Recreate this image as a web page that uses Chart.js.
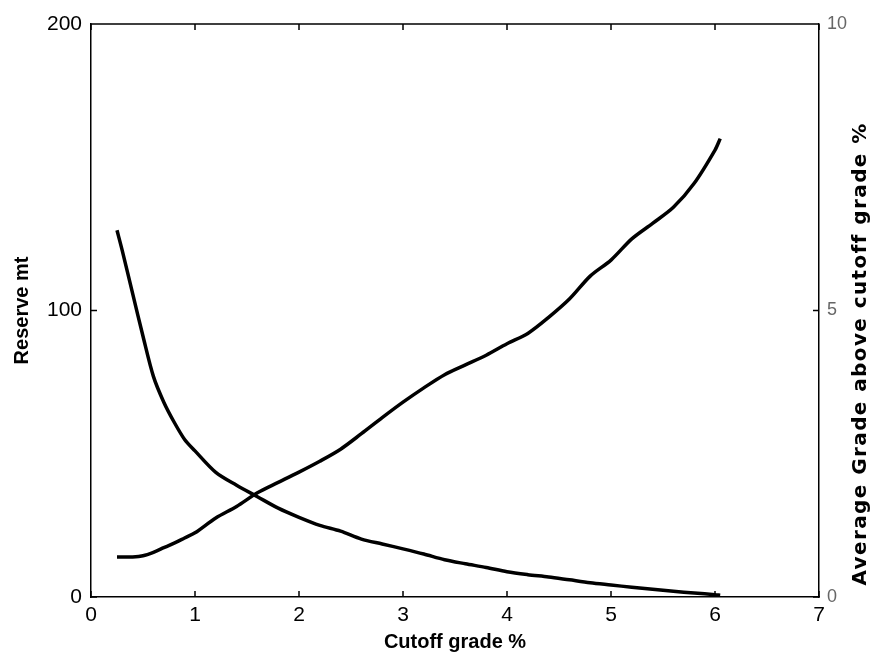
<!DOCTYPE html>
<html>
<head>
<meta charset="utf-8">
<script src="https://cdn.jsdelivr.net/npm/chart.js@4"></script>
<style>
  body { margin: 0; background: #fff; }
  #box { width: 874px; height: 656px; }
</style>
</head>
<body>
<div id="box"><canvas id="grafico"></canvas></div>
<script>
// Cutoff grade (%)
const cutoff = [0.25, 0.3, 0.4, 0.5, 0.6, 0.7, 0.8, 0.9, 1.0, 1.2, 1.4, 1.6, 1.8, 2.0, 2.2, 2.4, 2.6, 2.8, 3.0,
  3.2, 3.4, 3.6, 3.8, 4.0, 4.2, 4.4, 4.6, 4.8, 5.0, 5.2, 5.4, 5.6, 5.8, 6.0, 6.05];
// Reserve (mt), left axis
const reserve = [128, 121, 106, 91, 77, 68, 61, 55, 51, 43.5, 39, 35, 31, 27.8, 25, 23, 20.2, 18.5, 16.8,
  15, 13, 11.6, 10.3, 8.8, 7.8, 7, 6, 5, 4.2, 3.4, 2.7, 2, 1.4, 0.8, 0.6];
// Average grade above cutoff (%), right axis
const avgGrade = [0.70, 0.70, 0.70, 0.72, 0.78, 0.86, 0.94, 1.03, 1.12, 1.38, 1.58, 1.82, 2.0, 2.18, 2.37, 2.58, 2.85, 3.13, 3.40,
  3.65, 3.88, 4.05, 4.22, 4.42, 4.6, 4.88, 5.2, 5.6, 5.88, 6.25, 6.52, 6.8, 7.22, 7.8, 8.0];

const xTicks = [0, 1, 2, 3, 4, 5, 6, 7];
const yTicks = [0, 100, 200];
const y2Ticks = [0, 5, 10];
const tituloDireita = "Average Grade above cutoff grade %";

// small tick marks pointing inside, top border, right title (reads bottom to top)
const marcas = {
  id: "marcas",
  afterDraw(chart) {
    const c = chart.ctx, a = chart.chartArea, s = chart.scales;
    const len = 6;
    c.save();
    c.strokeStyle = "#000";
    c.lineWidth = 1.5;
    c.beginPath();
    c.moveTo(a.left, a.top); c.lineTo(a.right, a.top);
    xTicks.forEach(v => {
      const px = s.x.getPixelForValue(v);
      c.moveTo(px, a.bottom); c.lineTo(px, a.bottom - len);
      c.moveTo(px, a.top); c.lineTo(px, a.top + len);
    });
    yTicks.forEach(v => {
      const py = s.y.getPixelForValue(v);
      c.moveTo(a.left, py); c.lineTo(a.left + len, py);
    });
    y2Ticks.forEach(v => {
      const py = s.y2.getPixelForValue(v);
      c.moveTo(a.right, py); c.lineTo(a.right - len, py);
    });
    c.stroke();

    c.translate(861, 354);
    c.rotate(-Math.PI / 2);
    c.font = "bold 20px 'DejaVu Sans'";
    c.letterSpacing = "1.4px";
    c.fillStyle = "#000";
    c.textAlign = "center";
    c.textBaseline = "middle";
    c.fillText(tituloDireita, 0, 0);
    c.restore();
  }
};

const ctx = document.getElementById("grafico").getContext("2d");
new Chart(ctx, {
  type: "line",
  data: {
    datasets: [{
      label: "Reserve mt",
      data: cutoff.map((x, i) => ({ x: x, y: reserve[i] })),
      yAxisID: "y",
      borderColor: "#000",
      borderWidth: 3.5,
      pointRadius: 0,
      tension: 0.3
    }, {
      label: tituloDireita,
      data: cutoff.map((x, i) => ({ x: x, y: avgGrade[i] })),
      yAxisID: "y2",
      borderColor: "#000",
      borderWidth: 3.5,
      pointRadius: 0,
      tension: 0.3
    }]
  },
  options: {
    responsive: true,
    maintainAspectRatio: false,
    animation: false,
    layout: { padding: { top: 24, left: 0, right: 0, bottom: 0 } },
    plugins: { legend: { display: false }, tooltip: { enabled: false } },
    scales: {
      x: {
        type: "linear", min: 0, max: 7,
        afterBuildTicks: s => { s.ticks = xTicks.map(v => ({ value: v })); },
        afterFit: s => { s.height = 59; },
        grid: { display: false, drawTicks: false },
        border: { display: true, color: "#000", width: 1.5 },
        ticks: { color: "#000", padding: 6, font: { family: "Liberation Sans", size: 21 } },
        title: { display: true, text: "Cutoff grade %", color: "#000",
          font: { family: "Liberation Sans", size: 20, weight: "bold" }, padding: { top: 0, bottom: 2 } }
      },
      y: {
        position: "left", min: 0, max: 200,
        afterBuildTicks: s => { s.ticks = yTicks.map(v => ({ value: v })); },
        afterFit: s => { s.width = 91; },
        grid: { display: false, drawTicks: false },
        border: { display: true, color: "#000", width: 1.5 },
        ticks: { color: "#000", padding: 9, font: { family: "Liberation Sans", size: 21 } },
        title: { display: true, text: "Reserve mt", color: "#000",
          font: { family: "Liberation Sans", size: 20, weight: "bold" }, padding: { top: 10, bottom: 0 } }
      },
      y2: {
        position: "right", min: 0, max: 10,
        afterBuildTicks: s => { s.ticks = y2Ticks.map(v => ({ value: v })); },
        afterFit: s => { s.width = 55; },
        grid: { display: false, drawTicks: false },
        border: { display: true, color: "#000", width: 1.5 },
        ticks: { color: "#666", padding: 8, font: { family: "Liberation Sans", size: 18 } },
        title: { display: false }
      }
    }
  },
  plugins: [marcas]
});
</script>
</body>
</html>
